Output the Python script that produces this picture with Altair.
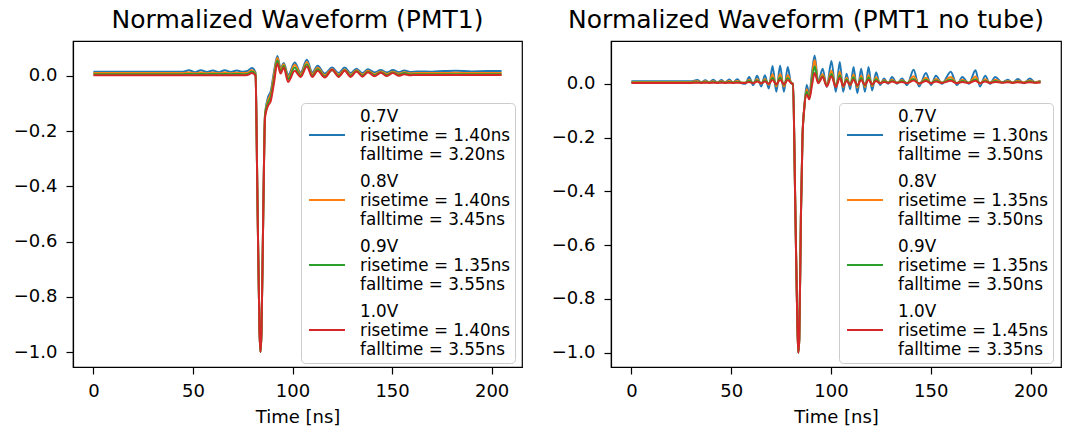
import altair as alt
import pandas as pd

COLORS = ["#1f77b4", "#ff7f0e", "#2ca02c", "#d62728"]

LEFT_TITLE = "Normalized Waveform (PMT1)"
RIGHT_TITLE = "Normalized Waveform (PMT1 no tube)"

LEFT_LABELS = [
    "0.7V|risetime = 1.40ns|falltime = 3.20ns",
    "0.8V|risetime = 1.40ns|falltime = 3.45ns",
    "0.9V|risetime = 1.35ns|falltime = 3.55ns",
    "1.0V|risetime = 1.40ns|falltime = 3.55ns",
]
RIGHT_LABELS = [
    "0.7V|risetime = 1.30ns|falltime = 3.50ns",
    "0.8V|risetime = 1.35ns|falltime = 3.50ns",
    "0.9V|risetime = 1.35ns|falltime = 3.50ns",
    "1.0V|risetime = 1.45ns|falltime = 3.35ns",
]

X_TICKS = [0, 50, 100, 150, 200]
Y_TICKS = [-1.0, -0.8, -0.6, -0.4, -0.2, 0.0]

# ---------------- left panel (PMT1) ----------------
L_T = [0, 15, 30, 45, 48, 51, 54, 57, 60, 63, 66, 69, 72, 75, 77.5, 79.6,
       81.4, 82.4, 83.4, 83.9, 84.4, 85.3, 86.2, 87.6, 89.1, 90.6, 92.4,
       94.0, 95.6, 97.8, 101.1, 104.1, 107.2, 109.9, 112.6, 116.2, 119.9,
       123.1, 126.2, 129.2, 132.1, 135.1, 137.9, 141.2, 144.3, 147.4, 150.4,
       153.4, 156.1, 159.1, 162.6, 170, 176, 182, 190, 198, 205]
L_07 = [0.015, 0.015, 0.015, 0.015, 0.020, 0.013, 0.020, 0.014, 0.019, 0.013, 0.020, 0.014, 0.019, 0.015, 0.018, 0.028,
        0.012, -0.45, -0.92, -1.0, -0.93, -0.5, -0.14, -0.08, -0.055, 0.01, 0.072,
        0.027, 0.046, 0.003, 0.048, 0.012, 0.058, 0.012, 0.036, 0.008, 0.030,
        0.010, 0.030, 0.010, 0.026, 0.010, 0.024, 0.012, 0.021, 0.012, 0.021,
        0.013, 0.019, 0.014, 0.016, 0.015, 0.017, 0.018, 0.016, 0.017, 0.017]
L_08 = [0.010, 0.010, 0.010, 0.010, 0.012, 0.009, 0.012, 0.009, 0.011, 0.009, 0.012, 0.009, 0.011, 0.010, 0.011, 0.020,
        0.008, -0.45, -0.92, -1.0, -0.93, -0.5, -0.14, -0.09, -0.065, 0.0, 0.065,
        0.022, 0.042, -0.006, 0.040, 0.006, 0.050, 0.006, 0.029, 0.002, 0.024,
        0.004, 0.023, 0.004, 0.020, 0.005, 0.018, 0.006, 0.016, 0.007, 0.015,
        0.008, 0.013, 0.009, 0.010, 0.010, 0.010, 0.011, 0.010, 0.010, 0.010]
L_09 = [0.006, 0.006, 0.006, 0.006, 0.007, 0.006, 0.007, 0.006, 0.007, 0.006, 0.007, 0.006, 0.007, 0.006, 0.007, 0.016,
        0.005, -0.45, -0.92, -1.0, -0.93, -0.5, -0.14, -0.10, -0.075, -0.015, 0.055,
        0.015, 0.036, -0.012, 0.030, 0.000, 0.042, 0.000, 0.024, -0.002, 0.020,
        0.000, 0.020, 0.000, 0.017, 0.001, 0.015, 0.002, 0.013, 0.003, 0.012,
        0.004, 0.010, 0.005, 0.006, 0.006, 0.006, 0.006, 0.006, 0.006, 0.006]
L_10 = [0.002, 0.002, 0.002, 0.002, 0.002, 0.002, 0.002, 0.002, 0.002, 0.002, 0.002, 0.002, 0.002, 0.002, 0.003, 0.010,
        0.000, -0.45, -0.92, -1.0, -0.93, -0.5, -0.15, -0.11, -0.09, -0.03, 0.045,
        0.008, 0.030, -0.022, 0.018, -0.004, 0.034, -0.004, 0.018, -0.006, 0.022,
        -0.004, 0.018, -0.004, 0.016, -0.003, 0.013, -0.002, 0.011, -0.001, 0.010,
        0.000, 0.006, 0.002, 0.003, 0.003, 0.003, 0.003, 0.003, 0.003, 0.003]

# ---------------- right panel (PMT1 no tube) ----------------
R_T = [0, 10, 20, 30, 33, 35, 37, 39, 41, 43, 45, 47, 49, 51, 53, 55,
       57.1, 59.0, 61.0, 63.0, 65.0, 66.9, 68.8, 70.7, 72.6, 74.5, 76.4, 78.3, 80.1,
       80.9, 82.2, 83.1, 83.6, 84.1, 84.9, 85.7, 86.6, 87.8, 89.1, 90.6, 91.8,
       93.6, 95.8, 97.9, 100.2, 102.4, 104.4, 106.1, 107.8, 109.6, 111.3,
       113.2, 115.1, 117.0, 118.8, 120.6, 122.6, 124.6, 126.6, 128.6, 130.6,
       133.1, 135.6, 138.1, 141.4, 144.1, 147.6, 150.1, 152.6, 155.6, 160.0,
       163.1, 165.8, 169.1, 172.4, 174.6, 177.3, 179.6, 182.3, 185.6, 188.6,
       191.1, 193.6, 196.6, 199.6, 202.3, 205.0]
R_07 = [0.009, 0.009, 0.009, 0.009, 0.014, 0.006, 0.013, 0.005, 0.015, 0.004, 0.014, 0.005, 0.016, 0.004, 0.017, 0.003,
        0.000, 0.025, -0.005, 0.030, -0.010, 0.032, -0.018, 0.066, -0.030, 0.068, -0.030, 0.062, 0.000,
        0.000, -0.5, -0.88, -1.0, -0.95, -0.5, -0.2, -0.09, -0.005, -0.04, 0.05, 0.105,
        0.006, 0.056, -0.012, 0.085, -0.030, 0.081, -0.030, 0.037, -0.020, 0.062,
        -0.035, 0.056, -0.030, 0.062, -0.025, 0.043, -0.005, 0.020, 0.000, 0.025,
        0.000, 0.020, -0.005, 0.052, -0.010, 0.040, -0.005, 0.030, 0.000, 0.045,
        -0.005, 0.025, 0.000, 0.050, -0.010, 0.030, 0.000, 0.025, 0.005, 0.015,
        0.003, 0.018, 0.002, 0.020, 0.005, 0.012]
R_08 = [0.007, 0.007, 0.007, 0.007, 0.009, 0.006, 0.009, 0.006, 0.009, 0.005, 0.009, 0.006, 0.010, 0.005, 0.010, 0.005,
        0.004, 0.015, 0.002, 0.017, 0.000, 0.018, -0.004, 0.035, -0.010, 0.036, -0.010, 0.033, 0.003,
        0.000, -0.5, -0.88, -1.0, -0.95, -0.5, -0.2, -0.09, -0.02, -0.05, 0.035, 0.088,
        0.006, 0.035, -0.005, 0.048, -0.012, 0.045, -0.012, 0.022, -0.006, 0.034,
        -0.014, 0.030, -0.012, 0.033, -0.008, 0.024, 0.002, 0.013, 0.004, 0.015,
        0.004, 0.013, 0.002, 0.028, 0.000, 0.022, 0.002, 0.018, 0.004, 0.025,
        0.002, 0.015, 0.004, 0.027, 0.000, 0.017, 0.004, 0.015, 0.006, 0.010,
        0.005, 0.011, 0.005, 0.012, 0.006, 0.009]
R_09 = [0.005, 0.005, 0.005, 0.005, 0.006, 0.005, 0.006, 0.005, 0.007, 0.004, 0.007, 0.005, 0.007, 0.004, 0.007, 0.004,
        0.004, 0.011, 0.003, 0.012, 0.002, 0.013, 0.000, 0.022, -0.004, 0.023, -0.004, 0.021, 0.003,
        0.000, -0.5, -0.88, -1.0, -0.95, -0.5, -0.2, -0.09, -0.03, -0.055, 0.02, 0.065,
        0.004, 0.028, -0.008, 0.036, -0.010, 0.032, -0.008, 0.016, -0.004, 0.024,
        -0.008, 0.021, -0.006, 0.023, -0.004, 0.017, 0.002, 0.010, 0.004, 0.011,
        0.004, 0.010, 0.003, 0.018, 0.001, 0.015, 0.003, 0.012, 0.004, 0.016,
        0.003, 0.010, 0.004, 0.017, 0.002, 0.011, 0.004, 0.010, 0.005, 0.008,
        0.004, 0.008, 0.004, 0.009, 0.005, 0.007]
R_10 = [0.003, 0.003, 0.003, 0.003, 0.004, 0.003, 0.004, 0.003, 0.004, 0.003, 0.004, 0.003, 0.004, 0.003, 0.004, 0.003,
        0.003, 0.007, 0.002, 0.008, 0.002, 0.008, 0.000, 0.014, -0.002, 0.015, -0.002, 0.014, 0.002,
        0.000, -0.5, -0.88, -1.0, -0.95, -0.5, -0.2, -0.09, -0.04, -0.058, 0.0, 0.04,
        0.002, 0.025, -0.010, 0.028, -0.012, 0.022, -0.008, 0.010, -0.004, 0.016,
        -0.006, 0.014, -0.004, 0.015, -0.002, 0.010, 0.002, 0.007, 0.003, 0.008,
        0.003, 0.007, 0.002, 0.012, 0.001, 0.010, 0.002, 0.008, 0.003, 0.011,
        0.002, 0.007, 0.003, 0.011, 0.002, 0.008, 0.003, 0.007, 0.004, 0.006,
        0.003, 0.006, 0.003, 0.006, 0.004, 0.005]


def long_df(t, series, labels):
    rows = []
    for k, (lab, vals) in enumerate(zip(labels, series)):
        for tt, vv in zip(t, vals):
            rows.append({"t": tt, "v": vv, "series": lab, "k": k})
    return pd.DataFrame(rows)


def panel(df, labels, title, ydom, width, title_dx):
    x = alt.X("t:Q",
              scale=alt.Scale(domain=[-10.25, 215.25], nice=False, zero=False),
              axis=alt.Axis(values=X_TICKS, title="Time [ns]", format="d",
                            labelPadding=8, titlePadding=8))
    y = alt.Y("v:Q",
              scale=alt.Scale(domain=ydom, nice=False, zero=False),
              axis=alt.Axis(values=Y_TICKS, format=".1f", title=None,
                            labelPadding=9))
    color = alt.Color(
        "series:N",
        sort=labels,
        scale=alt.Scale(domain=labels, range=COLORS),
        legend=alt.Legend(
            title=None, orient="none", legendX=228, legendY=62,
            labelExpr="split(datum.label, '|')",
            # horizontal line drawn one text line below the entry's first line
            symbolType="M-0.667,2L3.333,2", symbolSize=324, symbolStrokeWidth=2,
            symbolFillColor="transparent",
            labelFontSize=16.8, labelLimit=400, labelOffset=35,
            labelColor="black", labelFont="DejaVu Sans",
            padding=4, rowPadding=8,
            fillColor="rgba(255,255,255,0.85)", strokeColor="#cccccc",
            cornerRadius=4,
        ),
    )
    return (
        alt.Chart(df)
        .mark_line(interpolate="monotone", strokeWidth=2)
        .encode(x=x, y=y, color=color)
        .properties(
            width=width, height=326,
            title=alt.TitleParams(title, fontSize=25, fontWeight="normal",
                                  font="DejaVu Sans", color="black",
                                  anchor="middle", offset=8, dx=title_dx),
        )
    )


left = panel(long_df(L_T, [L_07, L_08, L_09, L_10], LEFT_LABELS),
             LEFT_LABELS, LEFT_TITLE, [-1.054, 0.126], 449, 0)
right = panel(long_df(R_T, [R_07, R_08, R_09, R_10], RIGHT_LABELS),
              RIGHT_LABELS, RIGHT_TITLE, [-1.053, 0.159], 450, -30)

chart = (
    alt.hconcat(left, right, spacing=27)
    .resolve_scale(color="independent")
    .resolve_legend(color="independent")
    .properties(padding={"left": 12, "top": 7, "right": 10, "bottom": 4})
    .configure(font="DejaVu Sans")
    .configure_axis(
        grid=False, domainColor="black", domainWidth=1.2,
        tickColor="black", tickSize=7, tickWidth=1.2,
        labelColor="black", labelFontSize=18, labelFont="DejaVu Sans",
        titleColor="black", titleFontSize=18, titleFontWeight="normal",
        titleFont="DejaVu Sans",
    )
    .configure_view(stroke="black", strokeWidth=1.2)
)

chart.save("out.html", embed_options={"renderer": "svg", "actions": False})
